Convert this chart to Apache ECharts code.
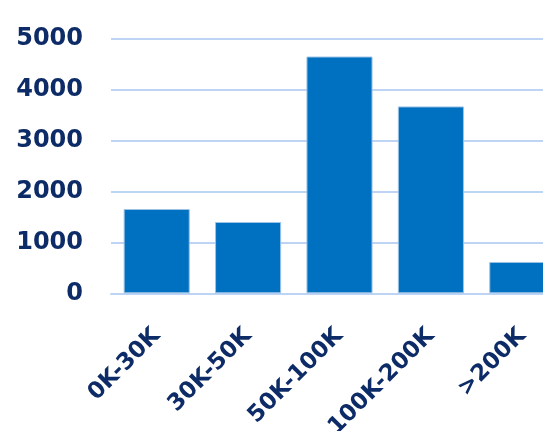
<!DOCTYPE html>
<html>
<head>
<meta charset="utf-8">
<script src="https://cdn.jsdelivr.net/npm/echarts@6/dist/echarts.min.js"></script>
<style>
html,body{margin:0;padding:0;background:#fff;overflow:hidden;width:543px;height:431px;}
#chart{width:568px;height:431px;}
</style>
</head>
<body>
<div id="chart"></div>
<script>
var categories = ['0K-30K', '30K-50K', '50K-100K', '100K-200K', '>200K'];
var values = [1655, 1400, 4650, 3670, 615];
var yTicks = { min: 0, max: 5000, interval: 1000 };

var chart = echarts.init(document.getElementById('chart'));
chart.setOption({
  animation: false,
  grid: { left: 111, right: 0, top: 38.7, bottom: 137.7, containLabel: false, outerBoundsMode: 'none' },
  xAxis: {
    type: 'category',
    data: categories,
    axisLine: { show: true, lineStyle: { color: '#BDD4F5', width: 2 } },
    axisTick: { show: false },
    axisLabel: {
      rotate: 45,
      margin: 39,
      color: '#0D2B66',
      fontFamily: 'DejaVu Sans',
      fontWeight: 'bold',
      fontSize: 23,
      interval: 0
    }
  },
  yAxis: {
    type: 'value',
    min: yTicks.min,
    max: yTicks.max,
    interval: yTicks.interval,
    axisLine: { show: false },
    axisTick: { show: false },
    splitLine: { lineStyle: { color: '#BDD4F5', width: 2 } },
    axisLabel: {
      margin: 28,
      color: '#0D2B66',
      fontFamily: 'DejaVu Sans',
      fontWeight: 'bold',
      fontSize: 24,
      formatter: function (v) { return String(v); }
    }
  },
  series: [{
    type: 'bar',
    data: values,
    barCategoryGap: '27.7%',
    itemStyle: { color: '#0070C0', borderColor: '#9DC3E6', borderWidth: 1 }
  }]
});
</script>
</body>
</html>
